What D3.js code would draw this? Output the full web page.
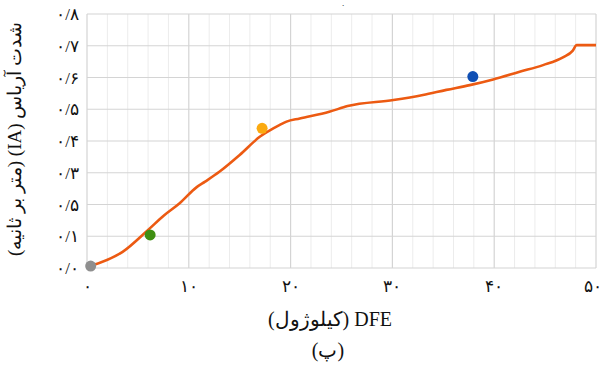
<!DOCTYPE html>
<html>
<head>
<meta charset="utf-8">
<script src="https://cdn.jsdelivr.net/npm/d3@7"></script>
<style>
  html, body { margin: 0; padding: 0; background: #fff; }
  svg { display: block; font-family: "Liberation Serif", "DejaVu Serif", serif; }
</style>
</head>
<body>
<script>
// curve: DFE (kJ) vs Arias intensity (m/s)
const dfe = [0.43, 3.5, 6.0, 7.5, 9.1, 10.75, 11.6, 13.0, 15.0, 17.0, 18.3, 18.9, 19.6, 20.9, 23.8,
             25.6, 30.1, 33.0, 35.3, 37.6, 39.9, 42.5, 44.8, 46.8, 47.7, 48.1, 50.0];
const ia  = [0.007, 0.051, 0.12, 0.164, 0.204, 0.254, 0.272, 0.303, 0.356, 0.414, 0.44, 0.45, 0.461, 0.471, 0.492,
             0.510, 0.529, 0.545, 0.561, 0.576, 0.594, 0.618, 0.639, 0.664, 0.684, 0.702, 0.702];

// highlighted records
const dotX = [0.36, 6.2, 17.2, 37.9];
const dotY = [0.006, 0.104, 0.44, 0.603];
const dotColor = ["#8f8f8f", "#3f8f12", "#fbaa10", "#0f4fb4"];

const xTicks = [0, 10, 20, 30, 40, 50];
const xTickLabels = ["۰", "۱۰", "۲۰", "۳۰", "۴۰", "۵۰"];
const yTicks = [0, 0.1, 0.2, 0.3, 0.4, 0.5, 0.6, 0.7, 0.8];
const yTickLabels = ["۰/۰", "۰/۱", "۰/۵", "۰/۳", "۰/۴", "۰/۵", "۰/۶", "۰/۷", "۰/۸"];

const width = 603, height = 365;
const margin = {top: 14, right: 7, bottom: 97, left: 87};

const svg = d3.select("body").append("svg")
    .attr("width", width)
    .attr("height", height);

const x = d3.scaleLinear().domain([0, 50]).range([margin.left, width - margin.right]);
const y = d3.scaleLinear().domain([0, 0.8]).range([height - margin.bottom, margin.top]);

// minor vertical grid every 2
svg.append("g")
  .selectAll("line")
  .data(d3.range(0, 51, 2).filter(d => d % 10 !== 0))
  .join("line")
    .attr("x1", d => x(d)).attr("x2", d => x(d))
    .attr("y1", y(0)).attr("y2", y(0.8))
    .attr("stroke", "#ececec")
    .attr("stroke-width", 1);

// major grid
svg.append("g")
  .selectAll("line")
  .data(xTicks)
  .join("line")
    .attr("x1", d => x(d)).attr("x2", d => x(d))
    .attr("y1", y(0)).attr("y2", y(0.8))
    .attr("stroke", "#d4d4d4")
    .attr("stroke-width", 1.2);

svg.append("g")
  .selectAll("line")
  .data(yTicks)
  .join("line")
    .attr("x1", x(0)).attr("x2", x(50))
    .attr("y1", d => y(d)).attr("y2", d => y(d))
    .attr("stroke", "#d4d4d4")
    .attr("stroke-width", 1.2);

// tick labels (last one kept inside the right edge)
svg.append("g")
    .attr("font-size", 17)
  .selectAll("text")
  .data(xTicks)
  .join("text")
    .attr("x", d => d === 50 ? width - 1 : x(d))
    .attr("y", y(0) + 24)
    .attr("text-anchor", d => d === 50 ? "end" : "middle")
    .attr("fill", "#111")
    .text((d, i) => xTickLabels[i]);

svg.append("g")
    .attr("font-size", 17)
  .selectAll("text")
  .data(yTicks)
  .join("text")
    .attr("x", x(0) - 8)
    .attr("y", d => y(d) + 6)
    .attr("text-anchor", "end")
    .attr("fill", "#111")
    .text((d, i) => yTickLabels[i]);

// curve
const line = d3.line()
    .x((d, i) => x(dfe[i]))
    .y((d, i) => y(ia[i]))
    .curve(d3.curveMonotoneX);

svg.append("path")
    .datum(dfe)
    .attr("d", line)
    .attr("fill", "none")
    .attr("stroke", "#ec5a12")
    .attr("stroke-width", 2.6)
    .attr("stroke-linejoin", "round");

svg.append("g")
  .selectAll("circle")
  .data(dotX)
  .join("circle")
    .attr("cx", d => x(d))
    .attr("cy", (d, i) => y(dotY[i]))
    .attr("r", 5.5)
    .attr("fill", (d, i) => dotColor[i]);

// axis titles
svg.append("text")
    .attr("x", 330)
    .attr("y", 326)
    .attr("text-anchor", "middle")
    .attr("direction", "rtl")
    .attr("font-size", 20)
    .attr("fill", "#111")
    .text("DFE (کیلوژول)");

svg.append("text")
    .attr("x", 328)
    .attr("y", 357)
    .attr("text-anchor", "middle")
    .attr("direction", "rtl")
    .attr("font-size", 20)
    .attr("fill", "#111")
    .text("(پ)");

svg.append("text")
    .attr("transform", "translate(21,139) rotate(-90)")
    .attr("text-anchor", "middle")
    .attr("direction", "rtl")
    .attr("font-size", 19)
    .attr("fill", "#111")
    .text("شدت آریاس (IA) (متر بر ثانیه)");

// remnant of a clipped title at the top edge
svg.append("text")
    .attr("x", 343)
    .attr("y", 6)
    .attr("text-anchor", "middle")
    .attr("font-size", 7)
    .attr("font-weight", "bold")
    .attr("fill", "#111")
    .text(".");
</script>
</body>
</html>
